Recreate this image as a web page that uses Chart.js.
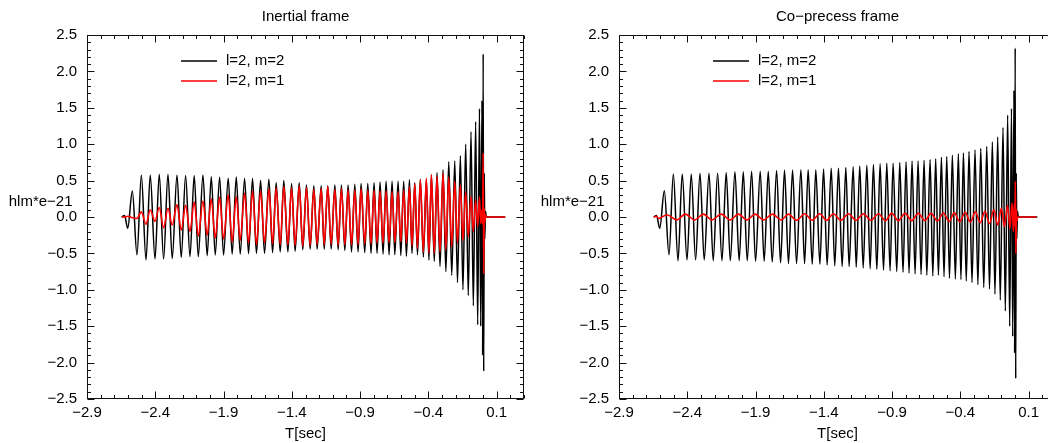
<!DOCTYPE html>
<html>
<head>
<meta charset="utf-8">
<script src="https://cdn.jsdelivr.net/npm/chart.js@4.4.0/dist/chart.umd.min.js"></script>
<style>
  html, body { margin: 0; padding: 0; background: #fff; width: 1048px; height: 443px; overflow: hidden; }
  .panel { position: absolute; top: 0; width: 532px; height: 443px; }
  #p1 { left: 0; }
  #p2 { left: 532px; }
</style>
</head>
<body>
<div class="panel" id="p1"><canvas id="inertial" width="532" height="443"></canvas></div>
<div class="panel" id="p2"><canvas id="coprec" width="532" height="443"></canvas></div>
<script>
const FONT = "'Liberation Sans', Arial, Helvetica, sans-serif";

// tiempos de los maximos / minimos de l=2,m=2 (s)
const tExt = [
  -2.646, -2.625, -2.602, -2.568, -2.534, -2.502, -2.468, -2.437, -2.402, -2.371,
  -2.339, -2.307, -2.276, -2.241, -2.210, -2.178, -2.146, -2.115, -2.085, -2.051,
  -2.020, -1.990, -1.961, -1.929, -1.900, -1.866, -1.837, -1.807, -1.778, -1.746,
  -1.717, -1.688, -1.659, -1.629, -1.600, -1.568, -1.541, -1.515, -1.485, -1.459,
  -1.429, -1.402, -1.376, -1.346, -1.320, -1.293, -1.266, -1.239, -1.215, -1.185,
  -1.163, -1.137, -1.112, -1.085, -1.061, -1.037, -1.012, -0.988, -0.963, -0.939,
  -0.915, -0.893, -0.866, -0.844, -0.820, -0.798, -0.776, -0.754, -0.732, -0.710,
  -0.688, -0.666, -0.646, -0.622, -0.602, -0.581, -0.561, -0.539, -0.520, -0.500,
  -0.480, -0.459, -0.437, -0.415, -0.396, -0.378, -0.357, -0.337, -0.315, -0.293,
  -0.272, -0.251, -0.229, -0.207, -0.187, -0.166, -0.147, -0.127, -0.108, -0.088,
  -0.071, -0.054, -0.039, -0.026, -0.017, -0.008, -0.003, 0.001, 0.005, 0.009,
  0.013, 0.018, 0.024, 0.163
];

// Inertial frame, l=2 m=2
const h22Inertial = [
  0, 0.02, -0.156, 0.357, -0.52, 0.577, -0.59, 0.577, -0.577, 0.586,
  -0.577, 0.586, -0.57, 0.577, -0.554, 0.57, -0.545, 0.57, -0.545, 0.577,
  -0.531, 0.554, -0.522, 0.545, -0.522, 0.531, -0.51, 0.55, -0.51, 0.53,
  -0.505, 0.53, -0.5, 0.5, -0.5, 0.52, -0.49, 0.47, -0.48, 0.5,
  -0.48, 0.46, -0.47, 0.47, -0.45, 0.44, -0.44, 0.43, -0.44, 0.43,
  -0.44, 0.43, -0.44, 0.44, -0.45, 0.44, -0.46, 0.44, -0.48, 0.45,
  -0.48, 0.46, -0.49, 0.46, -0.5, 0.47, -0.5, 0.48, -0.51, 0.49,
  -0.52, 0.49, -0.52, 0.49, -0.53, 0.49, -0.54, 0.51, -0.5, 0.47,
  -0.52, 0.52, -0.55, 0.51, -0.59, 0.58, -0.61, 0.61, -0.68, 0.65,
  -0.75, 0.76, -0.8, 0.77, -0.9, 0.84, -1.0, 1.0, -1.08, 1.17,
  -1.22, 1.31, -1.48, 1.49, -1.5, 1.6, -1.9, 2.24, -2.12, 0.6,
  -0.3, 0.08, 0, 0
];

// Inertial frame, l=2 m=1
const h21Inertial = [
  0, 0, 0.01, -0.01, -0.02, 0.07, -0.1, 0.1, -0.06, 0.13,
  -0.15, 0.12, -0.11, 0.17, -0.18, 0.16, -0.2, 0.21, -0.26, 0.22,
  -0.25, 0.25, -0.29, 0.27, -0.3, 0.3, -0.34, 0.28, -0.32, 0.33,
  -0.36, 0.36, -0.38, 0.36, -0.36, 0.39, -0.37, 0.4, -0.38, 0.42,
  -0.38, 0.4, -0.39, 0.43, -0.4, 0.4, -0.39, 0.38, -0.38, 0.39,
  -0.38, 0.42, -0.38, 0.38, -0.39, 0.39, -0.38, 0.37, -0.38, 0.37,
  -0.38, 0.39, -0.37, 0.37, -0.37, 0.37, -0.36, 0.36, -0.36, 0.36,
  -0.35, 0.35, -0.35, 0.35, -0.34, 0.37, -0.36, 0.42, -0.4, 0.46,
  -0.43, 0.51, -0.48, 0.53, -0.5, 0.58, -0.5, 0.56, -0.48, 0.6,
  -0.45, 0.55, -0.41, 0.49, -0.36, 0.44, -0.32, 0.35, -0.27, 0.28,
  -0.2, 0.23, -0.13, 0.28, -0.09, 0.1, -0.1, 0.88, -0.78, 0.12,
  -0.08, 0.03, 0, 0
];

// Co-precess frame, l=2 m=2
const h22Coprec = [
  0, 0.02, -0.156, 0.36, -0.52, 0.59, -0.6, 0.59, -0.59, 0.59,
  -0.59, 0.6, -0.59, 0.6, -0.6, 0.6, -0.6, 0.61, -0.6, 0.62,
  -0.6, 0.62, -0.6, 0.63, -0.61, 0.63, -0.61, 0.63, -0.62, 0.64,
  -0.63, 0.645, -0.64, 0.645, -0.64, 0.65, -0.64, 0.65, -0.65, 0.65,
  -0.65, 0.66, -0.66, 0.67, -0.67, 0.67, -0.68, 0.68, -0.68, 0.69,
  -0.69, 0.7, -0.7, 0.71, -0.71, 0.72, -0.72, 0.73, -0.73, 0.74,
  -0.74, 0.74, -0.75, 0.75, -0.76, 0.76, -0.77, 0.77, -0.78, 0.77,
  -0.79, 0.78, -0.8, 0.79, -0.81, 0.8, -0.8, 0.82, -0.82, 0.83,
  -0.84, 0.85, -0.85, 0.87, -0.86, 0.88, -0.88, 0.9, -0.9, 0.92,
  -0.93, 0.94, -0.97, 0.97, -0.99, 1.03, -1.06, 1.1, -1.14, 1.23,
  -1.29, 1.4, -1.5, 1.49, -1.64, 1.74, -1.87, 2.32, -2.22, 0.6,
  -0.3, 0.08, 0, 0
];

// Co-precess frame, l=2 m=1 (oscilacion lenta)
const tCo21 = [
  -2.646, -2.625, -2.610, -2.549, -2.476, -2.415, -2.347, -2.281, -2.220, -2.151,
  -2.086, -2.025, -1.964, -1.903, -1.842, -1.776, -1.712, -1.659, -1.600, -1.540,
  -1.485, -1.430, -1.380, -1.330, -1.275, -1.220, -1.165, -1.110, -1.055, -1.000,
  -0.950, -0.903, -0.855, -0.805, -0.757, -0.708, -0.660, -0.615, -0.568, -0.525,
  -0.482, -0.445, -0.405, -0.365, -0.327, -0.290, -0.255, -0.220, -0.187, -0.155,
  -0.127, -0.100, -0.077, -0.055, -0.037, -0.022, -0.012, -0.005, -0.001, 0.002,
  0.006, 0.010, 0.014, 0.020, 0.158
];
const h21Coprec = [
  0, 0.01, -0.02, 0.03, -0.04, 0.04, -0.04, 0.04, -0.04, 0.04,
  -0.04, 0.04, -0.04, 0.04, -0.04, 0.04, -0.04, 0.04, -0.045, 0.045,
  -0.045, 0.045, -0.045, 0.045, -0.045, 0.045, -0.045, 0.045, -0.045, 0.045,
  -0.05, 0.05, -0.05, 0.05, -0.05, 0.05, -0.05, 0.05, -0.055, 0.055,
  -0.06, 0.06, -0.065, 0.065, -0.07, 0.07, -0.08, 0.08, -0.09, 0.1,
  -0.11, 0.12, -0.13, 0.16, -0.16, 0.2, -0.2, 0.18, -0.12, 0.49,
  -0.5, 0.1, -0.05, 0, 0
];

const xTicks = [-2.9, -2.4, -1.9, -1.4, -0.9, -0.4, 0.1];
const yTicks = [-2.5, -2.0, -1.5, -1.0, -0.5, 0.0, 0.5, 1.0, 1.5, 2.0, 2.5];
const seriesNames = ["l=2, m=2", "l=2, m=1"];
const seriesColors = ["#000000", "#ff0000"];

Chart.defaults.font.family = FONT;
Chart.defaults.color = "#000";

const fmt = v => (v < 0 ? "\u2212" : "") + Math.abs(v).toFixed(1);
const pts = (ts, vs) => ts.map((t, i) => ({ x: t, y: vs[i] }));

// marco con marcas hacia dentro, etiqueta del eje y, leyenda
const frame = {
  id: "frame",
  afterDraw(chart) {
    const { ctx, chartArea: a, scales: { x, y } } = chart;
    const L = Math.round(a.left) + 0.5, R = Math.round(a.right) - 0.5;
    const T = Math.round(a.top) + 0.5, B = Math.round(a.bottom) - 0.5;
    ctx.save();
    ctx.strokeStyle = "#111";
    ctx.lineWidth = 1;
    ctx.strokeRect(L, T, R - L, B - T);
    ctx.beginPath();
    for (let k = 0; k <= 32; k++) {
      const px = Math.round(x.getPixelForValue(-2.9 + k * 0.1)) + 0.5;
      const len = k % 5 === 0 ? 7 : 3.5;
      ctx.moveTo(px, B); ctx.lineTo(px, B - len);
      ctx.moveTo(px, T); ctx.lineTo(px, T + len);
    }
    for (let k = 0; k <= 50; k++) {
      const py = Math.round(y.getPixelForValue(-2.5 + k * 0.1)) + 0.5;
      const len = k % 5 === 0 ? 7 : 3.5;
      ctx.moveTo(L, py); ctx.lineTo(L + len, py);
      ctx.moveTo(R, py); ctx.lineTo(R - len, py);
    }
    ctx.stroke();

    ctx.fillStyle = "#000";
    ctx.font = "15px " + FONT;
    ctx.textAlign = "right";
    ctx.textBaseline = "middle";
    ctx.fillText("hlm*e\u221221", a.left - 14.5, y.getPixelForValue(0) - 15);

    ctx.textAlign = "left";
    seriesNames.forEach((name, i) => {
      const ly = Math.round(a.top + 26 + i * 19.6);
      ctx.strokeStyle = seriesColors[i];
      ctx.lineWidth = 1.5;
      ctx.beginPath();
      ctx.moveTo(a.left + 94, ly);
      ctx.lineTo(a.left + 130, ly);
      ctx.stroke();
      ctx.fillText(name, a.left + 139, ly);
    });
    ctx.restore();
  }
};

function makeChart(id, title, d22, d21) {
  const tickFont = { family: FONT, size: 15 };
  return new Chart(document.getElementById(id), {
    type: "line",
    data: {
      datasets: [
        { label: seriesNames[0], data: d22, borderColor: seriesColors[0], borderWidth: 1.5, order: 1 },
        { label: seriesNames[1], data: d21, borderColor: seriesColors[1], borderWidth: 1.6, order: 0 }
      ]
    },
    options: {
      responsive: false,
      animation: false,
      events: [],
      layout: { padding: { left: 0, right: 8, top: 0, bottom: 0 } },
      elements: {
        point: { radius: 0 },
        line: { cubicInterpolationMode: "monotone", fill: false }
      },
      plugins: {
        legend: { display: false },
        tooltip: { enabled: false },
        title: {
          display: true, text: title, fullSize: false, color: "#000",
          font: { family: FONT, size: 15, weight: "normal" },
          padding: { top: 8, bottom: 9 }
        }
      },
      scales: {
        x: {
          type: "linear", min: -2.9, max: 0.3,
          afterBuildTicks: s => { s.ticks = xTicks.map(v => ({ value: v })); },
          afterFit: s => { s.height = 44; },
          grid: { display: false, drawTicks: false },
          border: { display: false },
          ticks: { font: tickFont, padding: 5, maxRotation: 0, autoSkip: false, callback: v => fmt(v) },
          title: { display: true, text: "T[sec]", font: tickFont, padding: { top: 0, bottom: 0 } }
        },
        y: {
          type: "linear", min: -2.5, max: 2.5,
          afterBuildTicks: s => { s.ticks = yTicks.map(v => ({ value: v })); },
          afterFit: s => { s.width = 87; },
          grid: { display: false, drawTicks: false },
          border: { display: false },
          ticks: { font: tickFont, padding: 10, autoSkip: false, callback: v => fmt(v) }
        }
      }
    },
    plugins: [frame]
  });
}

makeChart("inertial", "Inertial frame", pts(tExt, h22Inertial), pts(tExt, h21Inertial));
makeChart("coprec", "Co\u2212precess frame", pts(tExt, h22Coprec), pts(tCo21, h21Coprec));
</script>
</body>
</html>
